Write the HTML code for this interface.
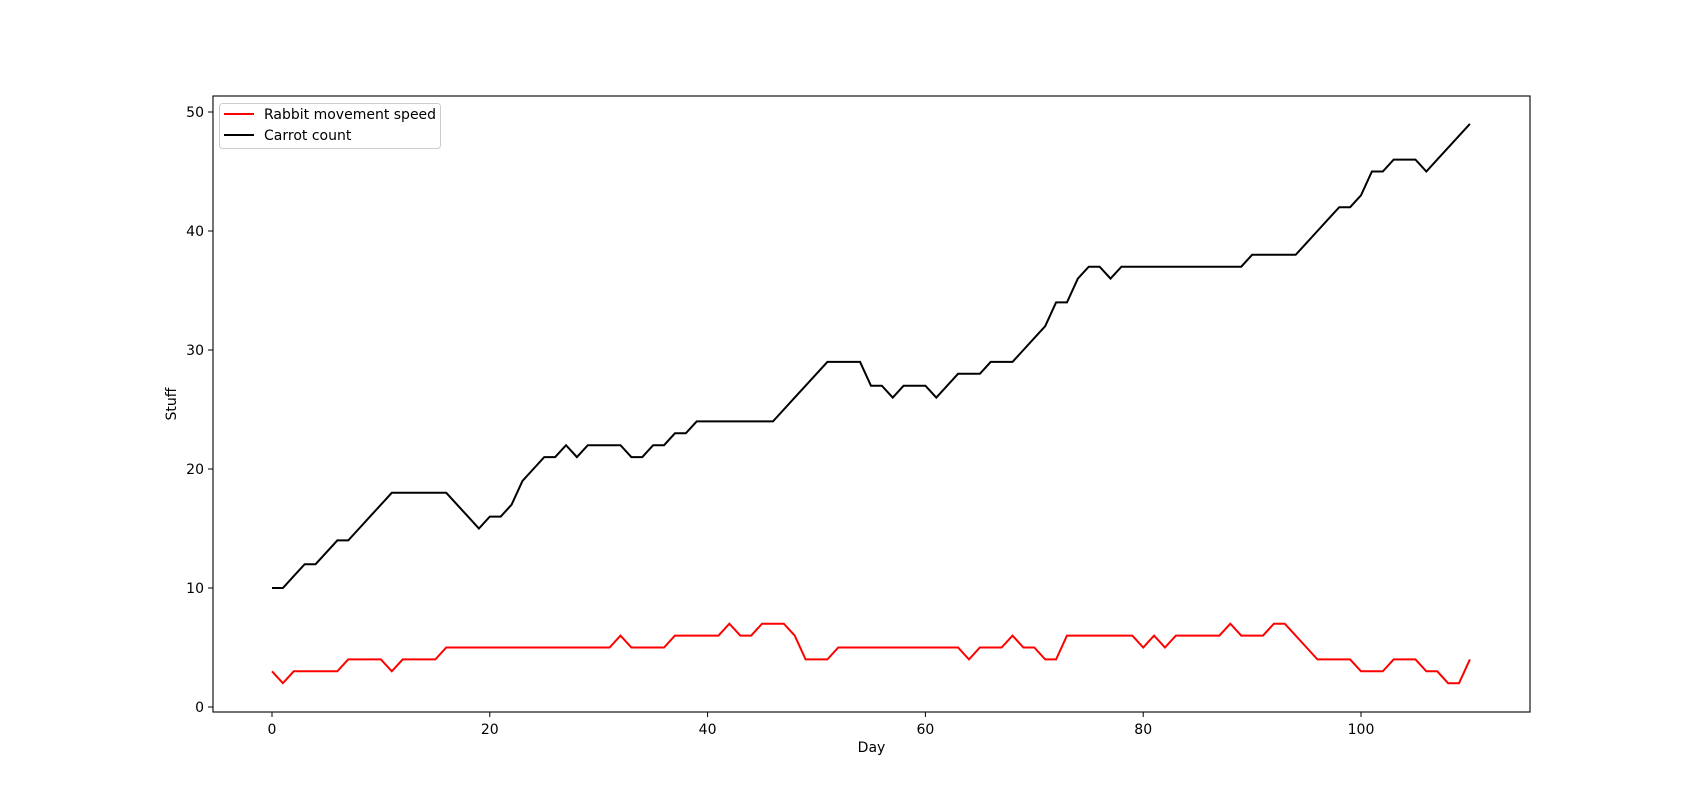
<!DOCTYPE html>
<html><head><meta charset="utf-8"><style>
html,body{margin:0;padding:0;background:#fff;}
svg{display:block;font-family:"DejaVu Sans","Liberation Sans",sans-serif;}
</style></head><body>
<svg id="chart" width="1700" height="800"></svg>
<script>
const days = Array.from({length:111},(_,i)=>i);
const rabbitSpeed = [3,2,3,3,3,3,3,4,4,4,4,3,4,4,4,4,5,5,5,5,5,5,5,5,5,5,5,5,5,5,5,5,6,5,5,5,5,6,6,6,6,6,7,6,6,7,7,7,6,4,4,4,5,5,5,5,5,5,5,5,5,5,5,5,4,5,5,5,6,5,5,4,4,6,6,6,6,6,6,6,5,6,5,6,6,6,6,6,7,6,6,6,7,7,6,5,4,4,4,4,3,3,3,4,4,4,3,3,2,2,4];
const carrotCount = [10,10,11,12,12,13,14,14,15,16,17,18,18,18,18,18,18,17,16,15,16,16,17,19,20,21,21,22,21,22,22,22,22,21,21,22,22,23,23,24,24,24,24,24,24,24,24,25,26,27,28,29,29,29,29,27,27,26,27,27,27,26,27,28,28,28,29,29,29,30,31,32,34,34,36,37,37,36,37,37,37,37,37,37,37,37,37,37,37,37,38,38,38,38,38,39,40,41,42,42,43,45,45,46,46,46,45,46,47,48,49];
const xTicks = [0,20,40,60,80,100];
const yTicks = [0,10,20,30,40,50];

const NS="http://www.w3.org/2000/svg";
const svg=document.getElementById('chart');
const L=213,R=1530,T=96,B=712;
const xs=v=>272+(v-0)*(1361-272)/100;
const ys=v=>707-v*(707-112)/50;
function el(t,a,p){const e=document.createElementNS(NS,t);for(const k in a)e.setAttribute(k,a[k]);(p||svg).appendChild(e);return e;}

const frame=el('rect',{x:L,y:T,width:R-L,height:B-T,fill:'none',stroke:'#000','stroke-width':1.1});



xTicks.forEach(v=>{
  const g=el('g',{});
  
  
  el('line',{x1:xs(v),x2:xs(v),y1:B,y2:B+5,stroke:'#000','stroke-width':1},g);
  const t=el('text',{x:xs(v),y:B+22,'font-size':14,'text-anchor':'middle'},g);t.textContent=v;
});
yTicks.forEach(v=>{
  const g=el('g',{});
  
  
  el('line',{x1:L-5,x2:L,y1:ys(v),y2:ys(v),stroke:'#000','stroke-width':1},g);
  const t=el('text',{x:L-9,y:ys(v)+5,'font-size':14,'text-anchor':'end'},g);t.textContent=v;
});
const xt=el('text',{x:(L+R)/2,y:752,'font-size':14,'text-anchor':'middle'});xt.textContent='Day';


const yt=el('text',{x:0,y:0,'font-size':14,'text-anchor':'middle',transform:`translate(176,${(T+B)/2}) rotate(-90)`});yt.textContent='Stuff';



function line(data,color,name){
  const p=el('polyline',{points:data.map((v,i)=>xs(days[i])+','+ys(v)).join(' '),fill:'none',stroke:color,'stroke-width':2,'stroke-linejoin':'miter'});
  
  
}
line(rabbitSpeed,'#ff0000','rabbit-speed-line');
line(carrotCount,'#000000','carrot-count-line');

const lg=el('g',{});


el('rect',{x:219.5,y:103.5,width:221,height:45,rx:3,fill:'#fff','fill-opacity':0.8,stroke:'#ccc'},lg);
[['Rabbit movement speed','#ff0000',114],['Carrot count','#000',135]].forEach(([n,c,y],i)=>{
  const g=el('g',{},lg);
  
  
  el('line',{x1:224,x2:254,y1:y,y2:y,stroke:c,'stroke-width':2},g);
  const t=el('text',{x:264,y:y+5,'font-size':14},g);t.textContent=n;
});
</script>
</body></html>
